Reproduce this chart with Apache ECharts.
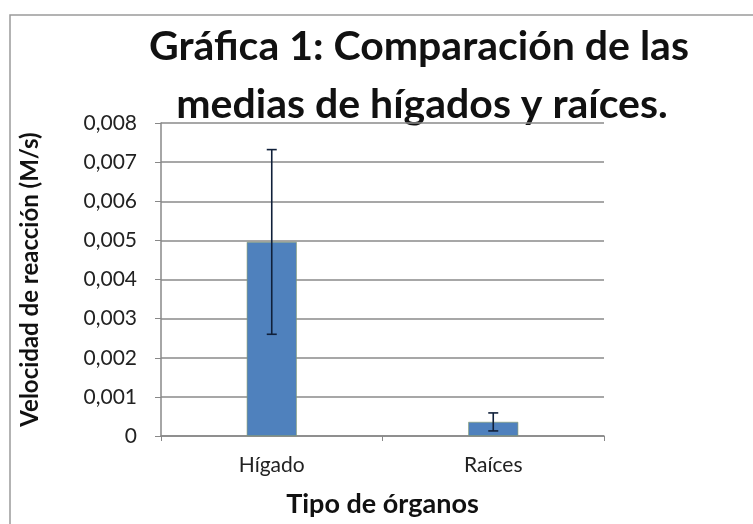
<!DOCTYPE html>
<html><head><meta charset="utf-8">
<script src="https://cdn.jsdelivr.net/npm/echarts@6/dist/echarts.min.js"></script>
<style>html,body{margin:0;padding:0;background:#fff}#c{width:753px;height:524px}</style>
</head><body><div id="c"></div>
<script>
const categories = ['Hígado', 'Raíces'];
const means = [0.00496, 0.00036];
const errors = [0.00236, 0.00023];
const yTicks = [0, 0.001, 0.002, 0.003, 0.004, 0.005, 0.006, 0.007, 0.008];
const titleLines = ['Gráfica 1: Comparación de las', 'medias de hígados y raíces.'];
const yName = 'Velocidad de reacción (M/s)';
const xName = 'Tipo de órganos';

const FONT = 'Lato';
const chart = echarts.init(document.getElementById('c'), null, {renderer: 'canvas'});
const errData = categories.map((c, i) => [i, means[i] - errors[i], means[i] + errors[i]]);
chart.setOption({
  animation: false,
  backgroundColor: '#fff',
  graphic: [
    {type: 'rect', shape: {x: 10, y: 15, width: 760, height: 520}, style: {fill: 'none', stroke: '#9a9a9a', lineWidth: 1.5}, silent: true, z: -1},
    {type: 'text', x: 419, y: 47, style: {text: titleLines[0], font: 'bold 41px ' + FONT, fill: '#111', align: 'center', verticalAlign: 'middle'}},
    {type: 'text', x: 422, y: 105, style: {text: titleLines[1], font: 'bold 41px ' + FONT, fill: '#111', align: 'center', verticalAlign: 'middle'}}
  ],
  grid: {left: 161, right: 149, top: 123, bottom: 88, containLabel: false},
  xAxis: {
    type: 'category', data: categories,
    name: xName, nameLocation: 'middle', nameGap: 55,
    nameTextStyle: {fontFamily: FONT, fontWeight: 'bold', fontSize: 27, color: '#111'},
    axisLine: {lineStyle: {color: '#888', width: 1.5}},
    axisTick: {show: true, alignWithLabel: false, length: 5, lineStyle: {color: '#888'}},
    axisLabel: {fontFamily: FONT, fontSize: 21, color: '#222', margin: 19}
  },
  yAxis: {
    type: 'value', min: 0, max: 0.008, interval: 0.001,
    name: yName, nameLocation: 'middle', nameGap: 119, nameRotate: 90,
    nameTextStyle: {fontFamily: FONT, fontWeight: 'bold', fontSize: 24, color: '#111'},
    axisLine: {show: true, lineStyle: {color: '#888', width: 1.5}},
    axisTick: {show: true, length: 6, lineStyle: {color: '#888'}},
    splitLine: {lineStyle: {color: '#8a8a8a', width: 1.5}},
    axisLabel: {fontFamily: FONT, fontSize: 21, color: '#222', margin: 24,
      formatter: v => { const t = yTicks.find(x => Math.abs(x - v) < 1e-9); return t === 0 ? '0' : (t !== undefined ? t.toFixed(3).replace('.', ',') : ''); }}
  },
  series: [
    {type: 'bar', data: means, barWidth: 50,
     itemStyle: {color: '#4f81bd', borderColor: '#8a9d6a', borderWidth: 0.6}},
    {type: 'custom', data: errData, z: 10,
     renderItem: function (params, api) {
       const x = api.value(0);
       const lo = api.coord([x, api.value(1)]);
       const hi = api.coord([x, api.value(2)]);
       const w = 5;
       const st = {stroke: '#10203a', lineWidth: 1.6};
       return {type: 'group', children: [
         {type: 'line', shape: {x1: hi[0], y1: hi[1], x2: lo[0], y2: lo[1]}, style: st},
         {type: 'line', shape: {x1: hi[0] - w, y1: hi[1], x2: hi[0] + w, y2: hi[1]}, style: st},
         {type: 'line', shape: {x1: lo[0] - w, y1: lo[1], x2: lo[0] + w, y2: lo[1]}, style: st}
       ]};
     }}
  ]
});
</script></body></html>
